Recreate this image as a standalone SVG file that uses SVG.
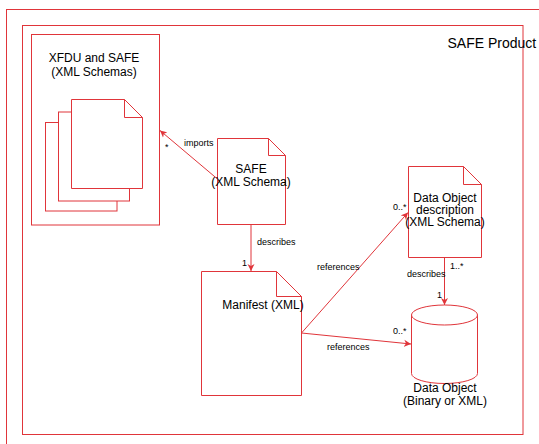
<svg xmlns="http://www.w3.org/2000/svg" width="539" height="444" viewBox="0 0 539 444">
<defs>
<style>
.s{fill:#fff;stroke:#e0353a;stroke-width:1}
.f{fill:none;stroke:#e0353a;stroke-width:1}
.c{fill:none;stroke:#e0353a;stroke-width:1}
text{font-family:"Liberation Sans",Arial,sans-serif;fill:#000}
.t{font-size:12px;text-anchor:middle}
.l{font-size:9px}
</style>
<marker id="ah" viewBox="0 0 8 8" refX="7" refY="4" markerWidth="8" markerHeight="8" markerUnits="userSpaceOnUse" orient="auto">
<path d="M0,0.5 L7,4 L0,7.5 L2,4 z" fill="#e0353a"/>
</marker>
</defs>
<rect width="539" height="444" fill="#fff"/>
<g id="outer-frame"><rect class="f" x="6.5" y="9.5" width="540" height="440"/></g>
<g id="safe-product">
<rect class="f" x="22.5" y="25.5" width="500.5" height="409"/>
<text x="447.5" y="48" style="font-size:14px">SAFE Product</text>
</g>
<g id="xfdu">
<rect class="s" x="31.5" y="34.5" width="128" height="190.5"/>
<text class="t" x="94" y="62">XFDU and SAFE</text>
<text class="t" x="94" y="76">(XML Schemas)</text>
<rect class="s" x="45.5" y="122.5" width="71.5" height="88.5"/>
<rect class="s" x="58.5" y="112" width="71" height="89"/>
<path class="s" d="M71.5,99.5 H124.5 L142.5,117.5 V188.5 H71.5 Z"/>
<path class="f" d="M124.5,99.5 V117.5 H142.5"/>
</g>
<g id="safe">
<path class="s" d="M217.5,138.5 H268.5 L285.5,155.5 V224.5 H217.5 Z"/>
<path class="f" d="M268.5,138.5 V155.5 H285.5"/>
<text class="t" x="251" y="173">SAFE</text>
<text class="t" x="251" y="186">(XML Schema)</text>
</g>
<g id="manifest">
<path class="s" d="M201.5,271.5 H276.5 L301.5,296.5 V395.5 H201.5 Z"/>
<path class="f" d="M276.5,271.5 V296.5 H301.5"/>
<text class="t" x="263" y="309">Manifest (XML)</text>
</g>
<g id="dod">
<path class="s" d="M408.5,166.5 H463.5 L481.5,184.5 V257.5 H408.5 Z"/>
<path class="f" d="M463.5,166.5 V184.5 H481.5"/>
<text class="t" x="445" y="202">Data Object</text>
<text class="t" x="445" y="214">description</text>
<text class="t" x="445" y="226">(XML Schema)</text>
</g>
<g id="data-object">
<path class="s" d="M411.5,315 V373.5 A33,10 0 0 0 477.5,373.5 V315 Z"/>
<ellipse class="s" cx="444.5" cy="315" rx="33" ry="10"/>
<text class="t" x="445" y="392">Data Object</text>
<text class="t" x="445" y="405">(Binary or XML)</text>
</g>
<g id="connectors">
<line class="c" x1="217.5" y1="179" x2="160" y2="130.5" marker-end="url(#ah)"/>
<text class="l" x="184" y="146">imports</text>
<text class="l" x="165" y="150">*</text>
<line class="c" x1="251" y1="224.5" x2="251" y2="271" marker-end="url(#ah)"/>
<text class="l" x="257" y="245">describes</text>
<text class="l" x="242" y="266">1</text>
<line class="c" x1="301.5" y1="333" x2="408" y2="212.5" marker-end="url(#ah)"/>
<text class="l" x="317" y="270">references</text>
<text class="l" x="393" y="210">0..*</text>
<line class="c" x1="301.5" y1="333" x2="411" y2="344" marker-end="url(#ah)"/>
<text class="l" x="327" y="350">references</text>
<text class="l" x="393" y="334">0..*</text>
<line class="c" x1="444.5" y1="257.5" x2="444.5" y2="305" marker-end="url(#ah)"/>
<text class="l" x="407" y="277">describes</text>
<text class="l" x="450" y="269">1..*</text>
<text class="l" x="437" y="298">1</text>
</g>
</svg>
